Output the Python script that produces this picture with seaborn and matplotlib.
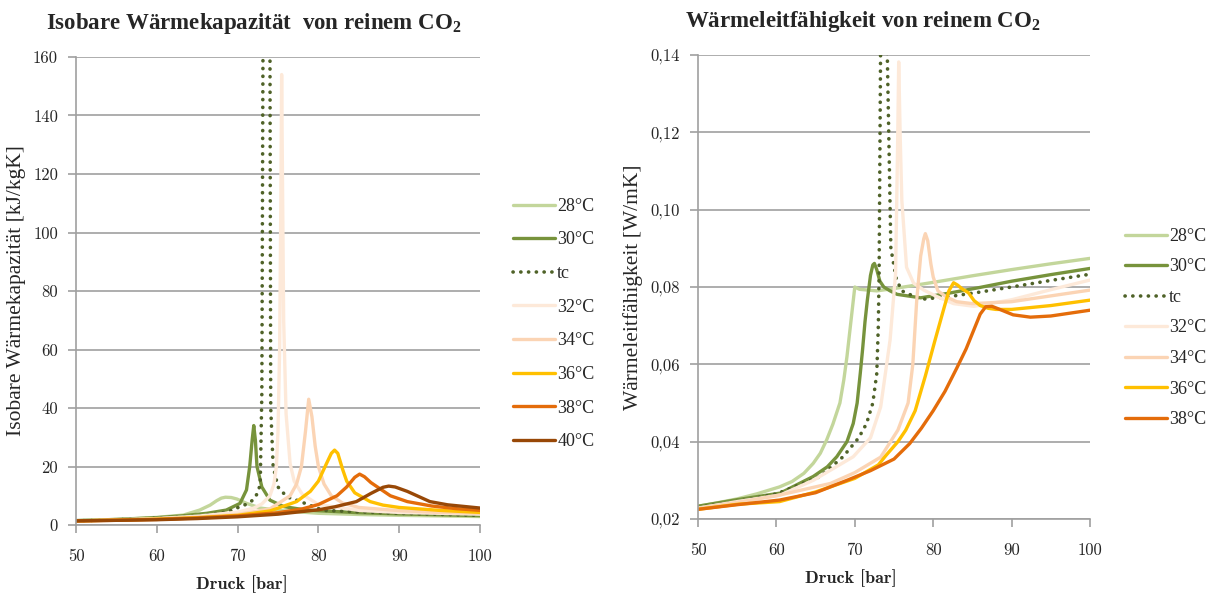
import matplotlib
matplotlib.use("Agg")
import matplotlib.pyplot as plt
import seaborn as sns
from matplotlib.ticker import FuncFormatter, MultipleLocator

sns.set_style("white")
plt.rcParams['font.family'] = ['cmr10', 'DejaVu Serif']
plt.rcParams['mathtext.fontset'] = 'custom'
plt.rcParams['mathtext.rm'] = 'Liberation Serif'
plt.rcParams['mathtext.bf'] = 'Liberation Serif:bold'
plt.rcParams['axes.unicode_minus'] = False

# --- Isobare Waermekapazitaet cp [kJ/kgK] ---
cp_p28 = [50, 55, 60, 63.3, 65.3, 66.6, 67.4, 68.0, 68.5, 69.2, 69.9, 71.1, 72.8, 75, 80, 85, 90, 100]
cp_28 = [1.5, 1.9, 2.6, 3.4, 5.1, 6.8, 8.3, 9.2, 9.5, 9.4, 8.9, 7.4, 5.8, 5.0, 4.0, 3.6, 3.3, 2.9]
cp_p30 = [50, 55, 60, 63, 66.2, 68.6, 70.3, 71.1, 71.5, 71.8, 72.0, 72.2, 72.4, 73.0, 74.0, 75.7, 78.5, 85, 90, 100]
cp_30 = [1.5, 1.9, 2.5, 3.1, 4.0, 5.1, 7.4, 12, 20, 29, 34, 29, 20, 13, 8.5, 6.3, 5.1, 4.2, 3.8, 3.2]
cp_ptc = [50, 55, 60, 65, 68.7, 69.9, 71.0, 71.9, 72.5, 72.8, 73.0, 73.15, 73.5, 74.0, 74.1, 74.4, 75.0, 76.1, 77.3, 80.6, 85, 90, 100]
cp_tc = [1.4, 1.8, 2.3, 3.1, 4.4, 5.8, 7.0, 8.5, 11, 14, 45, 170, 300, 170, 40, 20, 13, 9.6, 8.5, 5.0, 4.5, 4.0, 3.3]
cp_p32 = [50, 55, 60, 65, 70, 72, 73, 74, 74.5, 74.8, 75.0, 75.2, 75.35, 75.45, 75.55, 75.7, 76.0, 76.5, 77, 78, 80, 85, 90, 100]
cp_32 = [1.4, 1.8, 2.2, 3.0, 4.4, 5.8, 7.2, 10, 14, 20, 32, 60, 110, 154, 120, 70, 38, 21, 15, 10.5, 7, 5, 4.3, 3.7]
cp_p34 = [50, 55, 60, 65, 70, 74, 76.5, 77.3, 77.9, 78.4, 78.8, 79.2, 79.6, 80.0, 80.7, 81.6, 83, 85, 90, 95, 100]
cp_34 = [1.4, 1.7, 2.1, 2.7, 3.6, 5.5, 10, 14, 20, 32, 43, 37, 27, 20, 14, 10, 7.5, 6.0, 4.9, 4.3, 4.0]
cp_p36 = [50, 55, 60, 65, 70, 74, 77.3, 79, 80.0, 81.0, 81.6, 82.0, 82.4, 83.0, 83.5, 84.5, 86.4, 88, 90, 95, 100]
cp_36 = [1.4, 1.7, 2.0, 2.5, 3.3, 4.8, 8, 11.5, 15, 21, 24.5, 25.6, 24.5, 19, 15, 11, 8, 6.8, 6.0, 5.0, 4.3]
cp_p38 = [50, 55, 60, 65, 70, 75, 78, 80, 82.3, 83.5, 84.5, 85.1, 85.7, 86.5, 88.9, 91, 94, 97, 100]
cp_38 = [1.4, 1.6, 1.9, 2.4, 3.1, 4.2, 5.5, 7.0, 10, 13, 16.3, 17.4, 16.5, 14.5, 10, 8, 6.5, 5.6, 5.0]
cp_p40 = [50, 55, 60, 65, 70, 75, 80, 82, 84.7, 86.5, 88, 88.7, 89.5, 91, 93.8, 96, 100]
cp_40 = [1.4, 1.6, 1.8, 2.2, 2.8, 3.7, 5.2, 6.2, 8, 10.8, 12.9, 13.3, 13.0, 11.5, 8, 6.9, 5.8]

# --- Waermeleitfaehigkeit lambda [W/mK] ---
la_p28 = [50, 52.5, 55, 57.5, 60.4, 62, 63.5, 64.7, 65.6, 66.4, 67.2, 68.1, 68.6, 69.0, 69.5, 70.0, 70.6, 72.8, 75, 80, 85, 90, 95, 100]
la_28 = [0.0233, 0.0242, 0.0252, 0.0265, 0.0283, 0.0297, 0.0318, 0.0344, 0.037, 0.0404, 0.0445, 0.050, 0.056, 0.062, 0.071, 0.080, 0.0794, 0.079, 0.0796, 0.0812, 0.0829, 0.0845, 0.086, 0.0874]
la_p30 = [50, 55, 60.5, 64.7, 66.5, 67.7, 69.0, 69.8, 70.3, 70.7, 71.0, 71.3, 71.6, 72.0, 72.3, 72.5, 72.8, 73.2, 73.7, 74.5, 75.4, 78.4, 82, 86, 90, 95, 100]
la_30 = [0.0233, 0.025, 0.0267, 0.031, 0.0335, 0.0361, 0.040, 0.0447, 0.050, 0.0577, 0.064, 0.071, 0.0766, 0.083, 0.0857, 0.0861, 0.0845, 0.0815, 0.080, 0.079, 0.0781, 0.0772, 0.0784, 0.0799, 0.0815, 0.0832, 0.0848]
la_ptc = [50, 55, 60, 65.6, 68.5, 70.5, 71.5, 72.3, 72.8, 73.0, 73.1, 73.3, 73.7, 74.1, 74.6, 75.3, 76, 78.4, 82, 86, 90, 95, 100]
la_tc = [0.023, 0.0245, 0.0265, 0.031, 0.0361, 0.041, 0.0447, 0.050, 0.0576, 0.070, 0.0835, 0.145, 0.2, 0.145, 0.090, 0.082, 0.079, 0.0768, 0.0775, 0.0787, 0.080, 0.0817, 0.0833]
la_p32 = [50, 55, 60.5, 64.7, 69.8, 72, 73.3, 74.5, 75.2, 75.45, 75.6, 75.8, 76.0, 76.6, 77.5, 78.8, 80.5, 82.6, 85.2, 90, 95, 100]
la_32 = [0.0228, 0.0245, 0.0262, 0.030, 0.0361, 0.041, 0.049, 0.0663, 0.0835, 0.115, 0.1382, 0.118, 0.1024, 0.0851, 0.081, 0.0792, 0.0775, 0.0757, 0.075, 0.0767, 0.0793, 0.0818]
la_p34 = [50, 55, 60, 66.9, 70, 73.3, 75.5, 76.8, 77.4, 77.9, 78.4, 78.8, 79.0, 79.3, 79.7, 80.0, 80.6, 81.7, 83, 85, 90, 95, 100]
la_34 = [0.0228, 0.0243, 0.026, 0.0292, 0.032, 0.036, 0.043, 0.050, 0.060, 0.0766, 0.088, 0.0925, 0.0938, 0.092, 0.086, 0.0826, 0.079, 0.0774, 0.0762, 0.0757, 0.0762, 0.0777, 0.0792]
la_p36 = [50, 55, 60.4, 65, 70, 73, 74, 75.5, 76.5, 77.7, 79.0, 80.2, 81.3, 82.0, 82.6, 83.1, 83.7, 84.5, 85.2, 86, 87, 88, 90, 95, 100]
la_36 = [0.0225, 0.0238, 0.0245, 0.027, 0.0305, 0.034, 0.0365, 0.040, 0.043, 0.048, 0.057, 0.066, 0.074, 0.079, 0.0811, 0.0805, 0.0795, 0.0785, 0.0765, 0.0752, 0.0745, 0.0742, 0.0742, 0.0752, 0.0766]
la_p38 = [50, 55, 60.4, 65, 69, 72, 75, 77, 78.5, 80, 81.5, 83, 84.2, 85.2, 86.0, 86.7, 87.5, 88.5, 90.2, 92.4, 95, 100]
la_38 = [0.0225, 0.0237, 0.0249, 0.0268, 0.030, 0.0325, 0.0355, 0.0395, 0.0435, 0.048, 0.053, 0.059, 0.064, 0.069, 0.0730, 0.0749, 0.0750, 0.0742, 0.0728, 0.0722, 0.0725, 0.0740]

labels = ['28°C', '30°C', 'tc', '32°C', '34°C', '36°C', '38°C', '40°C']
colors = ['#c3d69b', '#77933c', '#4f6228', '#fde9d9', '#fbd4b4', '#ffc000', '#e46c0a', '#984807']

cp_series = [(cp_p28, cp_28), (cp_p30, cp_30), (cp_ptc, cp_tc), (cp_p32, cp_32),
             (cp_p34, cp_34), (cp_p36, cp_36), (cp_p38, cp_38), (cp_p40, cp_40)]
la_series = [(la_p28, la_28), (la_p30, la_30), (la_ptc, la_tc), (la_p32, la_32),
             (la_p34, la_34), (la_p36, la_36), (la_p38, la_38)]

GRAY = '#a0a0a0'
SERIF = ['Liberation Serif', 'DejaVu Serif']

fig = plt.figure(figsize=(12.14, 5.94), dpi=100)
ax1 = fig.add_axes([76 / 1214, 1 - 525 / 594, 404 / 1214, 468 / 594])
ax2 = fig.add_axes([698 / 1214, 1 - 519 / 594, 392 / 1214, 464 / 594])


def draw(ax, series):
    for (x, y), lab, col in zip(series, labels, colors):
        if lab == 'tc':
            sns.lineplot(x=x, y=y, ax=ax, color=col, label=lab, lw=2.6, estimator=None, sort=False,
                         linestyle=(0, (0.05, 2.1)), dash_capstyle='round')
        else:
            sns.lineplot(x=x, y=y, ax=ax, color=col, label=lab, lw=2.4, estimator=None, sort=False)


def style(ax):
    ax.set_xlim(50, 100)
    ax.xaxis.set_major_locator(MultipleLocator(10))
    ax.yaxis.grid(True, color=GRAY, lw=1.2)
    ax.xaxis.grid(False)
    ax.set_axisbelow(True)
    sns.despine(ax=ax)
    for s in ['left', 'bottom']:
        ax.spines[s].set_color(GRAY)
        ax.spines[s].set_linewidth(1.2)
    ax.tick_params(axis='both', direction='out', length=6, width=1.2, color=GRAY,
                   labelsize=12, bottom=True, left=True)
    ax.tick_params(axis='x', pad=11)
    ax.tick_params(axis='y', pad=7)


def legend(ax, x, y, spacing):
    ax.legend(loc='center left', bbox_to_anchor=(x / 1214, 1 - y / 594), bbox_transform=fig.transFigure,
              frameon=False, prop={'family': SERIF, 'size': 13}, handlelength=2.3, handletextpad=0.15,
              labelspacing=spacing, borderpad=0, borderaxespad=0)


draw(ax1, cp_series)
style(ax1)
ax1.set_ylim(0, 160)
ax1.yaxis.set_major_locator(MultipleLocator(20))
ax1.set_title(r'Isobare Wärmekapazität  von reinem CO$_\mathbf{2}$', family=SERIF, weight='bold',
              fontsize=16.5, x=0.44, pad=20)
ax1.set_ylabel('Isobare Wärmekapazität [kJ/kgK]', family=SERIF, fontsize=15.5, labelpad=5)
ax1.set_xlabel('Druck [bar]', family=['cmb10', 'DejaVu Serif'], fontsize=13, x=0.41, labelpad=8)
legend(ax1, 513, 324, 0.92)

draw(ax2, la_series)
style(ax2)
ax2.set_ylim(0.02, 0.14)
ax2.yaxis.set_major_locator(MultipleLocator(0.02))
ax2.yaxis.set_major_formatter(FuncFormatter(lambda v, p: f'{v:.2f}'.replace('.', ',')))
ax2.set_title(r'Wärmeleitfähigkeit von reinem CO$_\mathbf{2}$', family=SERIF, weight='bold',
              fontsize=16.5, x=0.42, pad=20)
ax2.set_ylabel('Wärmeleitfähigkeit [W/mK]', family=SERIF, fontsize=15.5, labelpad=5)
ax2.set_xlabel('Druck [bar]', family=['cmb10', 'DejaVu Serif'], fontsize=13, x=0.39, labelpad=8)
legend(ax2, 1125, 328, 0.75)

fig.savefig('out.png', dpi=100)
